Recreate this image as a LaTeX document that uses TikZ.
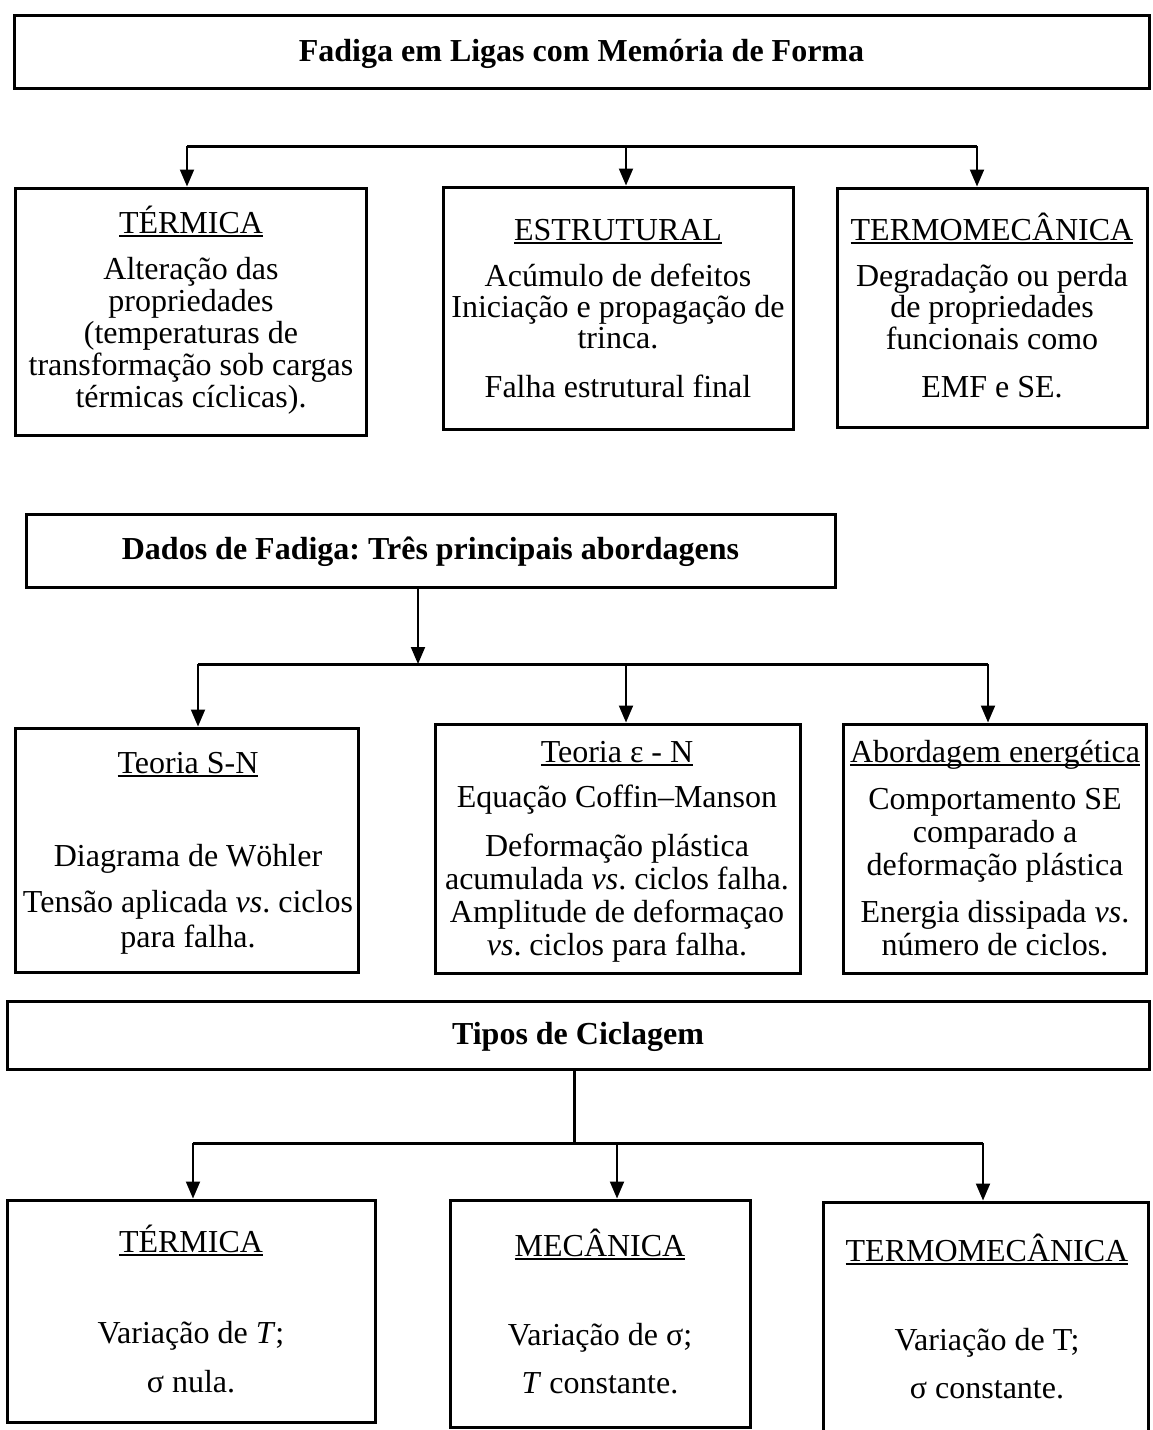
\documentclass[tikz,border=0pt]{standalone}
\usepackage{fontspec}
\setmainfont{Liberation Serif}
\usetikzlibrary{arrows.meta}
\frenchspacing

% underlined heading with a rule at a fixed depth below the baseline
\newcommand\headul[1]{{\setbox0\hbox{#1}\rlap{\rule[-3.5pt]{\wd0}{1.6pt}}\box0}}

% framed box given by its two corners
\newcommand\cornerbox[5]{%
  \node[frame, minimum width={(#4-#2)*1pt}, minimum height={(#5-#3)*1pt}]
    (#1) at ({(#2+#4)/2},{(#3+#5)/2}) {};}

% centred lines of text, one node per line, set on their baselines
\newcommand\textlines[5]{%
  \foreach \s [count=\i] in {#5}
    \node[txt] (#1-\i) at (#2,{#3+(\i-1)*#4}) {\s};}

\begin{document}
\begin{tikzpicture}[x=1pt,y=-1pt,
  every node/.style={font=\fontsize{32}{33}\selectfont},
  frame/.style={draw, line width=3pt, rectangle, inner sep=0pt},
  txt/.style={anchor=base, inner sep=0pt},
  titletxt/.style={txt, font=\fontsize{32}{33}\selectfont\bfseries},
  stem/.style={line width=2pt, -{Triangle[length=17pt,width=14pt]}},
  bus/.style={line width=3pt},
]
\useasboundingbox[fill=white] (0,0) rectangle (1153,1430);

% ---------- fatigue in shape memory alloys ----------
\cornerbox{t1}{14}{15}{1149}{88}
\node[titletxt] (t1txt) at (t1.center |- 0,61) {Fadiga em Ligas com Memória de Forma};

\cornerbox{r1a}{15}{188}{366}{435}
\cornerbox{r1b}{443}{187}{793}{429}
\cornerbox{r1c}{837}{188}{1147}{427}

\coordinate (b1l) at (187,146);
\coordinate (b1m) at (626,146);
\coordinate (b1r) at (977,146);
\draw[bus] (b1l) -- (b1r);
\draw[stem] (b1l) -- (r1a.north -| b1l);
\draw[stem] (b1m) -- (r1b.north -| b1m);
\draw[stem] (b1r) -- (r1c.north -| b1r);

\node[txt] (h1a) at (191,233) {\headul{TÉRMICA}};
\textlines{p1a}{191}{279}{32.2}{Alteração das,propriedades,{(temperaturas de},transformação sob cargas,térmicas cíclicas).}

\node[txt] (h1b) at (618,240) {\headul{ESTRUTURAL}};
\textlines{p1b}{618}{286}{31}{Acúmulo de defeitos,Iniciação e propagação de,trinca.}
\node[txt] (q1b) at (618,397) {Falha estrutural final};

\node[txt] (h1c) at (992,240) {\headul{TERMOMECÂNICA}};
\textlines{p1c}{992}{286}{31.5}{Degradação ou perda,de propriedades,funcionais como}
\node[txt] (q1c) at (992,397) {EMF e SE.};

% ---------- fatigue data ----------
\cornerbox{t2}{26}{514}{835}{587}
\node[titletxt] (t2txt) at (t2.center |- 0,559) {Dados de Fadiga: Três principais abordagens};

\cornerbox{r2a}{15}{728}{358}{972}
\cornerbox{r2b}{435}{724}{800}{973}
\cornerbox{r2c}{843}{724}{1146}{973}

\coordinate (b2j) at (418,664);
\coordinate (b2l) at (198,664);
\coordinate (b2m) at (626,664);
\coordinate (b2r) at (988,664);
\draw[stem] (t2.south -| b2j) -- (b2j);
\draw[bus] (b2l) -- (b2r);
\draw[stem] (b2l) -- (r2a.north -| b2l);
\draw[stem] (b2m) -- (r2b.north -| b2m);
\draw[stem] (b2r) -- (r2c.north -| b2r);

\node[txt] (h2a) at (188,773) {\headul{Teoria S-N}};
\node[txt] (q2a) at (188,866) {Diagrama de Wöhler};
\textlines{p2a}{188}{912}{35}{Tensão aplicada \textit{vs}. ciclos,para falha.}

\node[txt] (h2b) at (617,762) {\headul{Teoria ε - N}};
\node[txt] (q2b) at (617,807) {Equação Coffin–Manson};
\textlines{p2b}{617}{856}{33}{Deformação plástica,acumulada \textit{vs}. ciclos falha.,Amplitude de deformaçao,\textit{vs}. ciclos para falha.}

\node[txt] (h2c) at (995,762) {\headul{Abordagem energética}};
\textlines{p2c}{995}{809}{33}{Comportamento SE,comparado a,deformação plástica}
\textlines{s2c}{995}{922}{33}{Energia dissipada \textit{vs}.,número de ciclos.}

% ---------- cycling types ----------
\cornerbox{t3}{7}{1001}{1149}{1069}
\node[titletxt] (t3txt) at (578,1044) {Tipos de Ciclagem};

\cornerbox{r3a}{7}{1200}{375}{1422}
\cornerbox{r3b}{450}{1200}{750}{1427}
\cornerbox{r3c}{823}{1202}{1148}{1450}

\coordinate (b3j) at (574,1143);
\coordinate (b3l) at (193,1143);
\coordinate (b3m) at (617,1143);
\coordinate (b3r) at (983,1143);
\draw[bus] (t3.south -| b3j) -- (b3j);
\draw[bus] (b3l) -- (b3r);
\draw[stem] (b3l) -- (r3a.north -| b3l);
\draw[stem] (b3m) -- (r3b.north -| b3m);
\draw[stem] (b3r) -- (r3c.north -| b3r);

\node[txt] (h3a) at (191,1252) {\headul{TÉRMICA}};
\textlines{p3a}{191}{1343}{49}{Variação de \textit{T};,σ nula.}

\node[txt] (h3b) at (600,1256) {\headul{MECÂNICA}};
\textlines{p3b}{600}{1345}{48}{Variação de σ;,\textit{T} constante.}

\node[txt] (h3c) at (987,1261) {\headul{TERMOMECÂNICA}};
\textlines{p3c}{987}{1350}{48}{Variação de T;,σ constante.}
\end{tikzpicture}
\end{document}
